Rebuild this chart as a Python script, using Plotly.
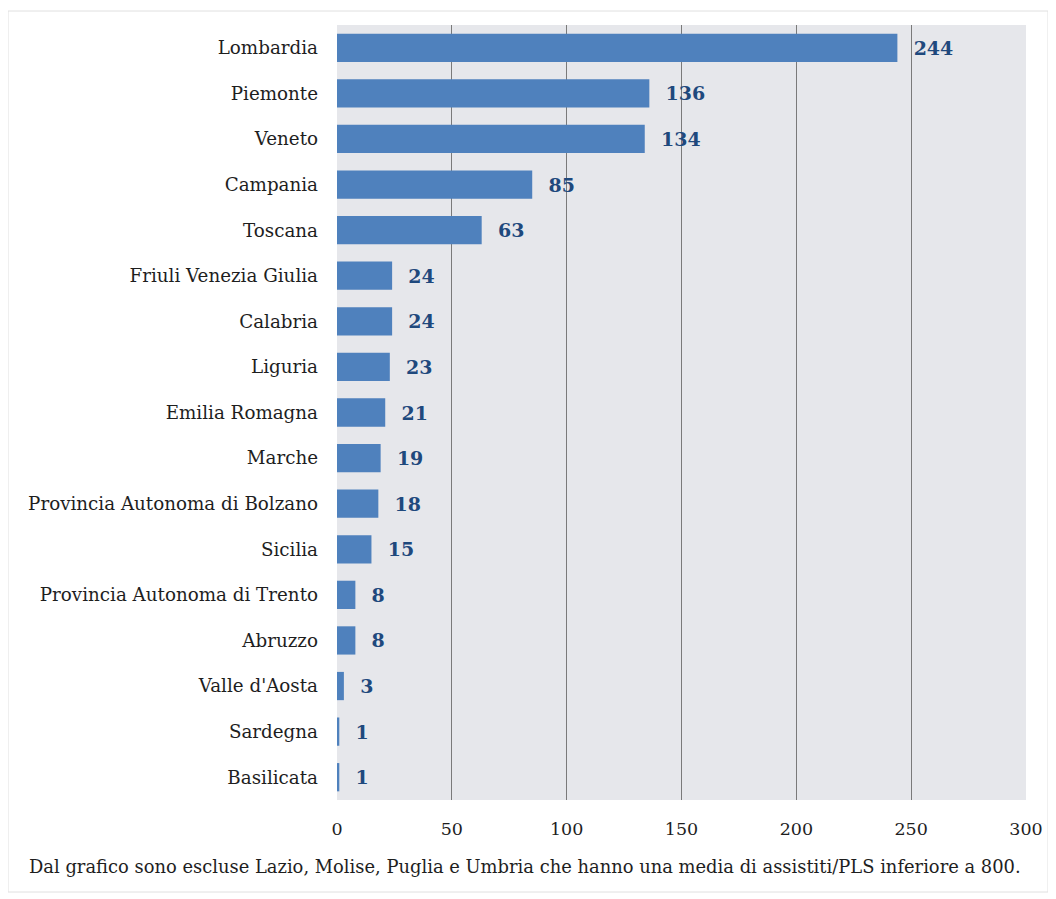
import plotly.graph_objects as go

regions = ["Lombardia", "Piemonte", "Veneto", "Campania", "Toscana",
           "Friuli Venezia Giulia", "Calabria", "Liguria", "Emilia Romagna",
           "Marche", "Provincia Autonoma di Bolzano", "Sicilia",
           "Provincia Autonoma di Trento", "Abruzzo", "Valle d'Aosta",
           "Sardegna", "Basilicata"]
values = [244, 136, 134, 85, 63, 24, 24, 23, 21, 19, 18, 15, 8, 8, 3, 1, 1]
tick_vals = [0, 50, 100, 150, 200, 250, 300]
footnote = "Dal grafico sono escluse Lazio, Molise, Puglia e Umbria che hanno una media di assistiti/PLS inferiore a 800."

OFF = 8  # default page body margin
W, H = 1056 - OFF, 899 - OFF
ml = 337 - OFF
mt = 25 - OFF
mr = W - (1026 - OFF)
mb = H - (800 - OFF)
pw = W - ml - mr
ph = H - mt - mb

fig = go.Figure(go.Bar(
    x=values, y=regions, orientation="h",
    marker=dict(color="#4f81bd", line=dict(width=0)),
    width=0.62,
    text=values, texttemplate="  %{text}", textposition="outside",
    cliponaxis=False,
    textfont=dict(family="DejaVu Serif", size=19, color="#1f497d", weight="bold"),
))

fig.update_layout(
    width=W, height=H,
    margin=dict(l=ml, r=mr, t=mt, b=mb),
    paper_bgcolor="white", plot_bgcolor="#e6e7eb",
    font=dict(family="DejaVu Serif", size=17, color="#1e1e1e"),
    showlegend=False,
    xaxis=dict(range=[0, 300], tickvals=tick_vals, showgrid=True,
               gridcolor="#7a7a7a", gridwidth=1, zeroline=False,
               showline=False, ticks="", ticklen=0, ticklabelstandoff=16,
               tickfont=dict(size=17.5, color="#1e1e1e")),
    yaxis=dict(autorange="reversed", showgrid=False, zeroline=False,
               showline=False, ticks="", ticklabelstandoff=18,
               tickfont=dict(size=18.3, color="#1e1e1e")),
    annotations=[dict(text=footnote, xref="paper", yref="paper",
                      x=-(337 - 27) / pw, y=-(866 - 800) / ph,
                      xanchor="left", yanchor="middle", showarrow=False,
                      font=dict(family="DejaVu Serif", size=17.9, color="#1e1e1e"))],
    shapes=[dict(type="rect", xref="paper", yref="paper",
                 x0=-(337 - 8) / pw, x1=1 + (1048 - 1026) / pw,
                 y0=-(892 - 800) / ph, y1=1 + (25 - 11) / ph,
                 line=dict(color="#e0e0e0", width=1), layer="below")],
)

fig.write_html("out.html")
